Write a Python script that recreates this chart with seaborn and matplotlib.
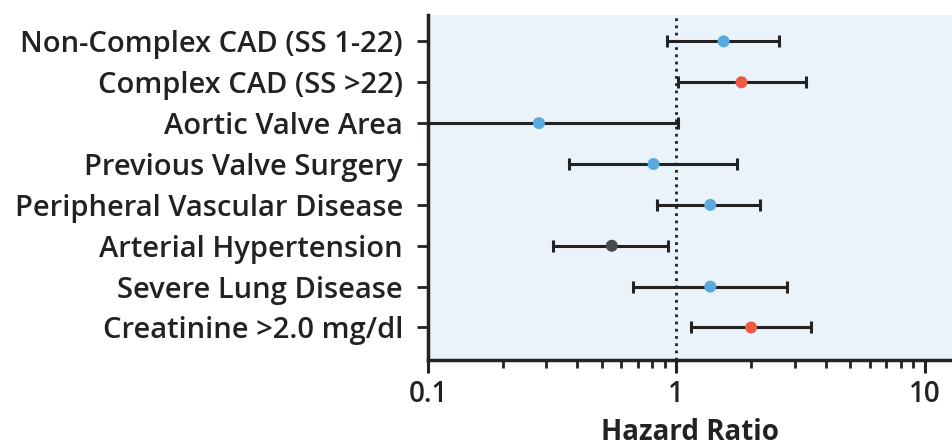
import matplotlib
matplotlib.use("Agg")

import numpy as np
import pandas as pd
import matplotlib.pyplot as plt
import seaborn as sns

# ── Data ─────────────────────────────────────────────────────────────────────
factors = [
    "Non-Complex CAD (SS 1-22)",
    "Complex CAD (SS >22)",
    "Aortic Valve Area",
    "Previous Valve Surgery",
    "Peripheral Vascular Disease",
    "Arterial Hypertension",
    "Severe Lung Disease",
    "Creatinine >2.0 mg/dl",
]
hr       = [1.55, 1.83, 0.28, 0.81, 1.37, 0.55, 1.37, 2.00]
ci_low   = [0.92, 1.02, 0.10, 0.37, 0.84, 0.32, 0.67, 1.15]
ci_high  = [2.60, 3.32, 1.02, 1.76, 2.18, 0.93, 2.79, 3.48]
group    = ["up", "sig_up", "up", "up", "up", "down", "up", "sig_up"]

# ── Palette & style ──────────────────────────────────────────────────────────
BLUE  = "#5AAADF"
RED   = "#EE5B45"
GREY  = "#4A4A4A"
INK   = "#222222"
PANEL = "#EAF2FA"

sns.set_style("white")
plt.rcParams["font.family"] = ["Open Sans", "DejaVu Sans"]
plt.rcParams["font.weight"] = "semibold"

df = pd.DataFrame({"factor": factors, "hr": hr, "lo": ci_low,
                   "hi": ci_high, "group": group})
df["pos"] = np.arange(len(df))

fig = plt.figure(figsize=(9.53, 4.48), dpi=100)
ax = fig.add_axes([0.449, 0.196, 0.551, 0.770])
ax.set_facecolor(PANEL)

# whiskers
ax.errorbar(df["hr"], df["pos"],
            xerr=[df["hr"] - df["lo"], df["hi"] - df["hr"]],
            fmt="none", ecolor=INK, elinewidth=2.2, capsize=4.5,
            capthick=2.2, zorder=2)

# reference line at HR = 1
ax.axvline(1, color=INK, lw=2, ls=(0, (1, 1.6)), zorder=1)

# point estimates
sns.scatterplot(data=df, x="hr", y="pos", hue="group",
                palette={"up": BLUE, "sig_up": RED, "down": GREY},
                s=75, edgecolor="none", legend=False, ax=ax, zorder=3)

ax.set_xscale("log")
ax.set_xlim(0.1, 13)
ax.set_ylim(7.8, -0.64)
ax.set_yticks(df["pos"])
ax.set_yticklabels(factors)
ax.set_xticks([0.1, 1, 10])
ax.set_xticklabels(["0.1", "1", "10"])

for s in ["top", "right"]:
    ax.spines[s].set_visible(False)
for s in ["left", "bottom"]:
    ax.spines[s].set_linewidth(2.5)
    ax.spines[s].set_color(INK)

ax.tick_params(axis="y", length=8, width=2, color=INK, labelsize=21,
               labelcolor=INK, pad=10, left=True)
ax.tick_params(axis="x", which="major", length=9, width=2.2, color=INK,
               labelsize=20, labelcolor=INK, pad=5, bottom=True)
ax.tick_params(axis="x", which="minor", length=5.5, width=2, color=INK,
               bottom=True)

ax.set_xlabel("Hazard Ratio", fontsize=20, fontweight="bold", color=INK,
              labelpad=7)
ax.set_ylabel("")

fig.savefig("out.png", dpi=100)
